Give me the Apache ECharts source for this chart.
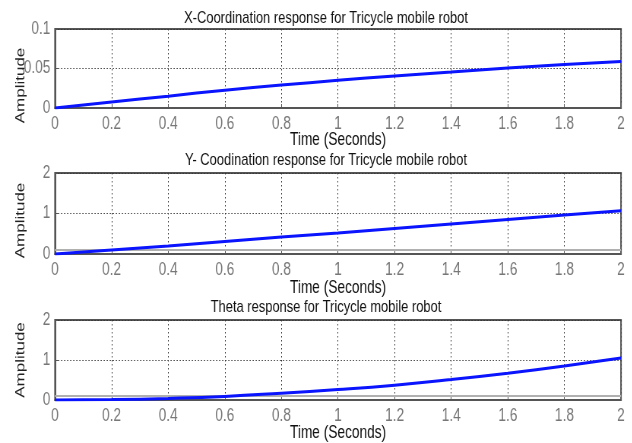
<!DOCTYPE html>
<html>
<head>
<meta charset="utf-8">
<script src="https://cdn.jsdelivr.net/npm/echarts@6/dist/echarts.min.js"></script>
<style>
  html, body { margin: 0; padding: 0; background: #fff; overflow: hidden; }
  /* the reference text is tall and narrow, so the chart is drawn wider and squeezed */
  #chart { width: 832px; height: 443px; transform: scaleX(0.76); transform-origin: 0 0; }
</style>
</head>
<body>
<div id="chart"></div>
<script>
var time = [0, 0.2, 0.4, 0.6, 0.8, 1.0, 1.2, 1.4, 1.6, 1.8, 2.0];
var xCoord = [0, 0.0075, 0.015, 0.0225, 0.029, 0.035, 0.0405, 0.0455, 0.0505, 0.055, 0.059];
var yCoord = [0, 0.1, 0.2, 0.31, 0.42, 0.52, 0.63, 0.74, 0.85, 0.96, 1.07];
var theta = [0, 0.01, 0.04, 0.09, 0.17, 0.26, 0.37, 0.51, 0.67, 0.85, 1.05];
var refLevel = [0.1, 0.1, 0.1, 0.1, 0.1, 0.1, 0.1, 0.1, 0.1, 0.1, 0.1];
var titles = [
  'X-Coordination response for Tricycle mobile robot',
  'Y- Coodination response for Tricycle mobile robot',
  'Theta response for Tricycle mobile robot'
];

var SX = 0.76;
var FONT = '"Liberation Sans", Arial, sans-serif';
var tops = [29, 173, 320];
var heights = [79, 81, 80];
var titleTops = [10, 152, 299];
var nameGaps = [23, 25, 24];
var ampPad = [[0, 34, 0, 0], [0, 14, 0, 0], [0, 0, 0, 0]];

function pairs(vals){
  return time.map(function(t, i){ return [t, vals[i]]; });
}

var grids = [], xAxes = [], yAxes = [], titleList = [];
for (var i = 0; i < 3; i++) {
  grids.push({
    left: 55 / SX, top: tops[i], width: 566 / SX, height: heights[i],
    outerBoundsMode: 'none',
    show: true, borderColor: '#555', borderWidth: 2, backgroundColor: '#fff'
  });
  titleList.push({
    text: titles[i], left: 326 / SX, top: titleTops[i], padding: 0, textAlign: 'center',
    textStyle: { fontFamily: FONT, fontSize: 17, fontWeight: 'normal', color: '#111' }
  });
  xAxes.push({
    gridIndex: i, type: 'value', min: 0, max: 2, interval: 0.2,
    name: 'Time (Seconds)', nameLocation: 'middle', nameGap: nameGaps[i], nameMoveOverlap: false,
    nameTextStyle: { fontFamily: FONT, fontSize: 18, color: '#111' },
    axisLine: { show: true, lineStyle: { color: '#555', width: 2 } },
    axisTick: { show: true, inside: true, length: 4, lineStyle: { color: '#555' } },
    axisLabel: { margin: 7, fontFamily: FONT, fontSize: 18, color: '#777' },
    splitLine: { show: true, lineStyle: { color: '#333', type: [1.5, 2.5], width: 1 } }
  });
  yAxes.push({
    gridIndex: i, type: 'value', min: 0,
    max: i === 0 ? 0.1 : 2, interval: i === 0 ? 0.05 : 1,
    name: 'Amplitude', nameLocation: 'middle', nameGap: 37, nameMoveOverlap: false,
    nameTextStyle: { fontFamily: FONT, fontSize: 17, color: '#222', padding: ampPad[i] },
    axisLine: { show: true, lineStyle: { color: '#555', width: 2 } },
    axisTick: { show: true, inside: true, length: 4, lineStyle: { color: '#555' } },
    axisLabel: { margin: 6, fontFamily: FONT, fontSize: 18, color: '#777' },
    splitLine: { show: true, lineStyle: { color: '#333', type: [1.5, 2.5], width: 1 } }
  });
}

function blueLine(idx, vals){
  return {
    type: 'line', xAxisIndex: idx, yAxisIndex: idx, data: pairs(vals),
    smooth: true, showSymbol: false, z: 3,
    lineStyle: { color: '#0a14ff', width: 3 }
  };
}
function grayLine(idx){
  return {
    type: 'line', xAxisIndex: idx, yAxisIndex: idx, data: pairs(refLevel),
    showSymbol: false, z: 2,
    lineStyle: { color: '#b0b0b0', width: 2 }
  };
}

var chart = echarts.init(document.getElementById('chart'));
chart.setOption({
  animation: false,
  backgroundColor: '#fff',
  title: titleList,
  grid: grids,
  xAxis: xAxes,
  yAxis: yAxes,
  series: [
    blueLine(0, xCoord),
    grayLine(1),
    blueLine(1, yCoord),
    grayLine(2),
    blueLine(2, theta)
  ]
});
</script>
</body>
</html>
